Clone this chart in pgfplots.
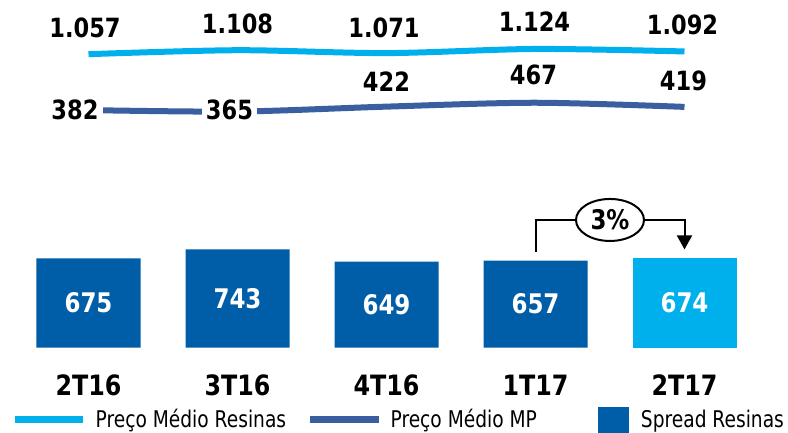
\documentclass[border=0pt]{standalone}
\usepackage{fontspec}
\setmainfont{DejaVu Sans}[FakeStretch=0.85]
\newfontfamily\legfont{DejaVu Sans}[FakeStretch=0.81]
\usepackage{pgfplots}
\pgfplotsset{compat=1.18}
\usetikzlibrary{arrows.meta,shapes.geometric}
\definecolor{lightblue}{RGB}{0,176,236}
\definecolor{darkblue}{RGB}{0,94,168}
\definecolor{mpblue}{RGB}{58,95,160}
\pgfplotsset{base/.style={at={(14pt,84.3pt)}, anchor=south west, scale only axis,
  width=745pt, height=340pt, xmin=-0.5, xmax=4.5, clip=false,
  axis line style={draw=none}, major tick style={draw=none},
  xtick=\empty, ytick=\empty}}
\newcommand{\lbl}{\bfseries\fontsize{26.5}{28}\selectfont}
\begin{document}
\begin{tikzpicture}
\path[use as bounding box] (0,0) rectangle (788pt,432pt);
% Preco Medio Resinas
\begin{axis}[base, ymin=-2706, ymax=1653]
\addplot[lightblue, line width=6pt, smooth] coordinates {(0,1057)(1,1108)(2,1071)(3,1124)(4,1092)};
\node[font=\lbl, xshift=-3.5pt, yshift=26.5pt] at (axis cs:0,1057) {1.057};
\node[font=\lbl, yshift=26.5pt] at (axis cs:1,1108) {1.108};
\node[font=\lbl, xshift=-2.5pt, yshift=25.5pt] at (axis cs:2,1071) {1.071};
\node[font=\lbl, xshift=-1pt, yshift=27pt] at (axis cs:3,1124) {1.124};
\node[font=\lbl, xshift=-2pt, yshift=27pt] at (axis cs:4,1092) {1.092};
\end{axis}
% Preco Medio MP
\begin{axis}[base, ymin=-2368, ymax=1567]
\addplot[mpblue, line width=6pt, smooth] coordinates {(0,382)(1,365)(2,422)(3,467)(4,419)};
\node[font=\lbl, fill=white, inner xsep=4pt, xshift=-13.5pt] at (axis cs:0,382) {382};
\node[font=\lbl, fill=white, inner xsep=4pt, xshift=-8pt, yshift=2pt] at (axis cs:1,365) {365};
\node[font=\lbl, yshift=25pt] at (axis cs:2,422) {422};
\node[font=\lbl, xshift=-2pt, yshift=28pt] at (axis cs:3,467) {467};
\node[font=\lbl, xshift=-1pt, yshift=26pt] at (axis cs:4,419) {419};
\end{axis}
% Spread Resinas bars
\begin{axis}[base, ymin=0, ymax=2566, ybar, bar width=104pt, bar shift=0pt,
  xtick={0,1,2,3,4}, xticklabels={2T16,3T16,4T16,1T17,2T17},
  xticklabel style={font=\bfseries\fontsize{28}{30}\selectfont, anchor=base, yshift=-44pt},
  nodes near coords,
  visualization depends on={y \as \rawy},
  every node near coord/.append style={font=\bfseries\fontsize{27}{29}\selectfont, text=white, anchor=center, yshift=-0.06625pt*\rawy},
  /pgf/number format/assume math mode=true,
  legend columns=3,
  legend style={at={(axis description cs:-0.0027,-0.2214)}, anchor=west, draw=none, fill=none, inner sep=0pt,
    nodes={inner sep=0pt, font=\legfont\fontsize{23}{25}\selectfont, anchor=west},
    /tikz/column 1/.style={column sep=9pt},
    /tikz/column 2/.style={column sep=21pt},
    /tikz/column 3/.style={column sep=8pt},
    /tikz/column 4/.style={column sep=61pt},
    /tikz/column 5/.style={column sep=12pt}}]
\addlegendimage{legend image code/.code={\draw[lightblue, line width=6.5pt] (0pt,0pt) -- (68pt,0pt);}}
\addlegendentry{Preço Médio Resinas}
\addlegendimage{legend image code/.code={\draw[mpblue, line width=6.5pt] (0pt,0pt) -- (69pt,0pt);}}
\addlegendentry{Preço Médio MP}
\addplot[fill=darkblue, draw=none, legend image code/.code={\fill[darkblue] (0pt,-19pt) rectangle (31pt,12pt);}] coordinates {(0,675)(1,743)(2,649)(3,657)};
\addlegendentry{Spread Resinas}
\addplot[fill=lightblue, draw=none, forget plot] coordinates {(4,674)};
\draw[line width=2pt, -{Triangle[length=14pt,width=15pt]}] ([yshift=9pt]axis cs:3,657) -- (axis cs:3,964) -- (axis cs:4,964) -- ([yshift=9pt]axis cs:4,674);
\node[ellipse, draw, line width=2pt, fill=white, minimum width=68pt, minimum height=42pt, inner sep=0pt, font=\bfseries\fontsize{27}{29}\selectfont] at (axis cs:3.5,964) {3\%};
\end{axis}
\end{tikzpicture}
\end{document}
